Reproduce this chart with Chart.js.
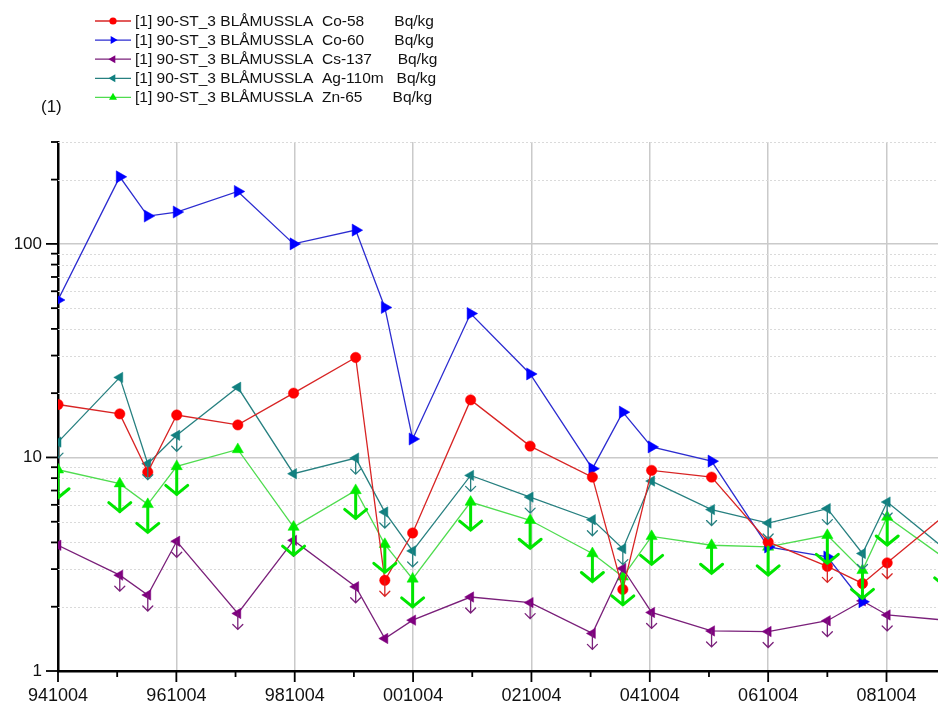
<!DOCTYPE html>
<html>
<head>
<meta charset="utf-8">
<script src="https://cdn.jsdelivr.net/npm/chart.js@4/dist/chart.umd.min.js"></script>
<style>
  html, body { margin: 0; padding: 0; background: #fff; overflow: hidden; }
  canvas { display: block; }
</style>
</head>
<body>
<canvas id="chart" width="938" height="705"></canvas>
<script>
// Sampling dates (YYMMDD)
const sampleDates = ['941004','951020','960410','961006','971018','980927','991015','000412','001001','010924',
                     '020926','031015','040420','041015','051020','061004','071004','080508','081008','091004'];

// Activity concentrations, Bq/kg
const co58  = [17.7, 16.0, 8.54, 15.8, 14.2, 20.0, 29.4, 2.66, 4.43, 18.6, 11.3, 8.09, 2.41, 8.7, 8.09, 4.02, 3.09, 2.57, 3.21, 5.4];
const co60  = [54.6, 206, 135, 141, 176, 100, 116, 50.4, 12.2, 47.2, 24.6, 8.86, 16.3, 11.2, 9.61, 3.81, 3.42, 2.11, null, null];
const cs137 = [3.88, 2.81, 2.27, 4.05, 1.86, 4.09, 2.48, 1.42, 1.73, 2.22, 2.09, 1.50, 3.02, 1.88, 1.54, 1.53, 1.72, 2.13, 1.83, 1.73];
const ag110m = [11.8, 23.7, 9.35, 12.7, 21.3, 8.39, 9.93, 5.55, 3.65, 8.24, 6.52, 5.11, 3.74, 7.75, 5.70, 4.93, 5.76, 3.55, 6.18, 3.7];
const zn65  = [8.76, 7.54, 6.03, 9.08, 10.9, 4.72, 7.01, 3.92, 2.70, 6.18, 5.08, 3.55, 2.76, 4.27, 3.88, 3.81, 4.32, 2.96, 5.26, 3.35];

// 1 = result below detection limit ("less than" value)
const co58Below  = [0,0,0,0,0,0,0,1,0,0,0,0,0,0,0,0,1,0,1,0];
const co60Below  = [0,0,0,0,0,0,0,0,0,0,0,0,0,0,0,0,0,0,0,0];
const cs137Below = [0,1,1,1,1,1,1,0,0,1,1,1,0,1,1,1,1,0,1,1];
const ag110mBelow = [1,0,1,1,0,0,1,1,1,1,1,1,1,0,1,1,1,1,1,1];
const zn65Below  = [1,1,1,1,0,1,1,1,1,1,1,1,1,1,1,1,1,1,1,1];

const seriesLabels = [
  '[1] 90-ST_3 BLÅMUSSLA  Co-58       Bq/kg',
  '[1] 90-ST_3 BLÅMUSSLA  Co-60       Bq/kg',
  '[1] 90-ST_3 BLÅMUSSLA  Cs-137      Bq/kg',
  '[1] 90-ST_3 BLÅMUSSLA  Ag-110m   Bq/kg',
  '[1] 90-ST_3 BLÅMUSSLA  Zn-65       Bq/kg'
];
const axisCaption = '(1)';

const xTickLabels = ['941004','961004','981004','001004','021004','041004','061004','081004'];
const yTickValues = [1, 10, 100];
const yTickLabels = ['1', '10', '100'];

const FONT = 'Arial, "Liberation Sans", Helvetica, sans-serif';

// YYMMDD -> decimal year
function dateToYear(s) {
  const yy = +s.slice(0, 2), mm = +s.slice(2, 4), dd = +s.slice(4, 6);
  const y = yy < 50 ? 2000 + yy : 1900 + yy;
  const a = Date.UTC(y, 0, 1), b = Date.UTC(y + 1, 0, 1);
  return y + (Date.UTC(y, mm - 1, dd) - a) / (b - a);
}

const xYears = sampleDates.map(dateToYear);
const toPoints = arr => arr.map((v, i) => ({ x: xYears[i], y: v }));

const xMin = dateToYear(xTickLabels[0]);
const xMax = xMin + 14.87;

// marker shapes
function markerPath(ctx, style, rot, r, x, y) {
  ctx.beginPath();
  if (style === 'circle') {
    ctx.arc(x, y, r, 0, Math.PI * 2);
  } else {
    const a = rot * Math.PI / 180;
    for (let k = 0; k < 3; k++) {
      const t = a + k * 2 * Math.PI / 3;
      const px = x + Math.sin(t) * r, py = y - Math.cos(t) * r;
      if (k === 0) ctx.moveTo(px, py); else ctx.lineTo(px, py);
    }
    ctx.closePath();
  }
}

const seriesStyle = [
  { line: '#d82424', point: '#ff0000', style: 'circle',   rot: 0,   r: 5.2, arrow: 'thin' },
  { line: '#2c2cd0', point: '#0000ff', style: 'triangle', rot: 90,  r: 7,   arrow: 'thin' },
  { line: '#7a207a', point: '#7f007f', style: 'triangle', rot: -90, r: 6,   arrow: 'thin' },
  { line: '#278080', point: '#118080', style: 'triangle', rot: -90, r: 6,   arrow: 'thin' },
  { line: '#4fdc4f', point: '#00ee00', style: 'triangle', rot: 0,   r: 6.5, arrow: 'bold' }
];
const seriesValues = [co58, co60, cs137, ag110m, zn65];
const seriesBelow = [co58Below, co60Below, cs137Below, ag110mBelow, zn65Below];

const datasets = seriesValues.map((vals, i) => ({
  label: seriesLabels[i],
  data: toPoints(vals),
  belowLimit: seriesBelow[i],
  borderColor: seriesStyle[i].line,
  backgroundColor: seriesStyle[i].point,
  borderWidth: 1.3,
  tension: 0,
  spanGaps: false,
  pointStyle: seriesStyle[i].style,
  rotation: seriesStyle[i].rot,
  pointRadius: seriesStyle[i].r,
  pointBackgroundColor: seriesStyle[i].point,
  pointBorderColor: seriesStyle[i].point,
  pointBorderWidth: 0.5,
  pointHoverRadius: seriesStyle[i].r
}));

// dotted minor grid, minor/major tick marks
const axisDecor = {
  id: 'axisDecor',
  beforeDatasetsDraw(chart) {
    const { ctx, chartArea: ca, scales: { y } } = chart;
    ctx.save();
    ctx.strokeStyle = '#dadada';
    ctx.lineWidth = 1;
    ctx.setLineDash([2, 2]);
    for (let d = 1; d <= 100; d *= 10) {
      for (let m = 2; m <= 9; m++) {
        const v = m * d;
        if (v > y.max) continue;
        const py = Math.round(y.getPixelForValue(v)) + 0.5;
        ctx.beginPath();
        ctx.moveTo(ca.left, py);
        ctx.lineTo(ca.right, py);
        ctx.stroke();
      }
    }
    ctx.restore();
  },
  afterDraw(chart) {
    const { ctx, chartArea: ca, scales: { x, y } } = chart;
    ctx.save();
    ctx.strokeStyle = '#000';
    ctx.lineWidth = 1.8;
    // y ticks
    for (let d = 1; d <= 100; d *= 10) {
      for (let m = 1; m <= 9; m++) {
        const v = m * d;
        if (v > y.max + 1e-9) continue;
        const py = y.getPixelForValue(v);
        const len = m === 1 ? 12 : 7;
        ctx.beginPath();
        ctx.moveTo(ca.left - len, py);
        ctx.lineTo(ca.left, py);
        ctx.stroke();
      }
    }
    // x ticks: major every second year, minor in between
    const first = dateToYear(xTickLabels[0]);
    for (let k = 0; first + k <= x.max; k++) {
      const px = x.getPixelForValue(first + k);
      const len = k % 2 === 0 ? 11 : 6;
      ctx.beginPath();
      ctx.moveTo(px, ca.bottom);
      ctx.lineTo(px, ca.bottom + len);
      ctx.stroke();
    }
    ctx.restore();
  }
};

// downward arrows marking values below the detection limit
const limitArrows = {
  id: 'limitArrows',
  afterDatasetsDraw(chart) {
    const { ctx, chartArea: ca, scales: { x, y } } = chart;
    ctx.save();
    ctx.beginPath();
    ctx.rect(ca.left, ca.top, ca.right - ca.left, ca.bottom - ca.top);
    ctx.clip();
    chart.data.datasets.forEach((ds, i) => {
      const st = seriesStyle[i];
      const bold = st.arrow === 'bold';
      const L = bold ? 28 : 16, hw = bold ? 11 : 5, hh = bold ? 9 : 5;
      ctx.strokeStyle = bold ? '#00e600' : st.line;
      ctx.lineWidth = bold ? 3 : 1.3;
      ctx.lineCap = 'round';
      ds.data.forEach((p, j) => {
        if (p.y == null || !ds.belowLimit[j]) return;
        const px = x.getPixelForValue(p.x), py = y.getPixelForValue(p.y);
        ctx.beginPath();
        ctx.moveTo(px, py);
        ctx.lineTo(px, py + L);
        ctx.moveTo(px - hw, py + L - hh);
        ctx.lineTo(px, py + L);
        ctx.lineTo(px + hw, py + L - hh);
        ctx.stroke();
      });
    });
    ctx.restore();
  }
};

// legend block and axis caption
const legendBlock = {
  id: 'legendBlock',
  afterDraw(chart) {
    const { ctx } = chart;
    ctx.save();
    ctx.font = '15.5px ' + FONT;
    ctx.textBaseline = 'middle';
    ctx.textAlign = 'left';
    chart.data.datasets.forEach((ds, i) => {
      const st = seriesStyle[i];
      const yy = 21 + i * 19.1;
      ctx.strokeStyle = st.line;
      ctx.lineWidth = 1.3;
      ctx.beginPath();
      ctx.moveTo(95, yy);
      ctx.lineTo(131, yy);
      ctx.stroke();
      ctx.fillStyle = st.point;
      markerPath(ctx, st.style, st.rot, st.style === 'circle' ? 3.6 : 4.6, 113, yy);
      ctx.fill();
      ctx.fillStyle = '#111';
      ctx.fillText(ds.label, 135, yy + 0.5);
    });
    ctx.font = '17px ' + FONT;
    ctx.fillStyle = '#111';
    ctx.fillText(axisCaption, 41, 107);
    ctx.restore();
  }
};

new Chart(document.getElementById('chart'), {
  type: 'line',
  data: { datasets },
  plugins: [axisDecor, limitArrows, legendBlock],
  options: {
    responsive: false,
    animation: false,
    events: [],
    layout: { autoPadding: false, padding: { top: 142, left: 0, right: 0, bottom: 0 } },
    plugins: { legend: { display: false }, tooltip: { enabled: false } },
    scales: {
      x: {
        type: 'linear',
        min: xMin,
        max: xMax,
        afterBuildTicks(scale) {
          scale.ticks = xTickLabels.map(s => ({ value: dateToYear(s) }));
        },
        afterFit(scale) {
          scale.height = 34;
          scale.paddingLeft = 0;
          scale.paddingRight = 0;
        },
        ticks: {
          autoSkip: false,
          maxRotation: 0,
          padding: 14,
          color: '#111',
          font: { family: FONT, size: 18 },
          callback: (v, i) => xTickLabels[i]
        },
        grid: { color: '#cacaca', lineWidth: 1.5, drawTicks: false },
        border: { display: true, color: '#000', width: 2.5 }
      },
      y: {
        type: 'logarithmic',
        min: 1,
        max: 300,
        afterBuildTicks(scale) {
          scale.ticks = yTickValues.map(v => ({ value: v }));
        },
        afterFit(scale) {
          scale.width = 58;
          scale.paddingTop = 0;
          scale.paddingBottom = 0;
        },
        ticks: {
          autoSkip: false,
          padding: 16,
          color: '#111',
          font: { family: FONT, size: 17 },
          callback: (v, i) => yTickLabels[i]
        },
        grid: { color: '#cacaca', lineWidth: 1.5, drawTicks: false },
        border: { display: true, color: '#000', width: 2.5 }
      }
    }
  }
});
</script>
</body>
</html>
